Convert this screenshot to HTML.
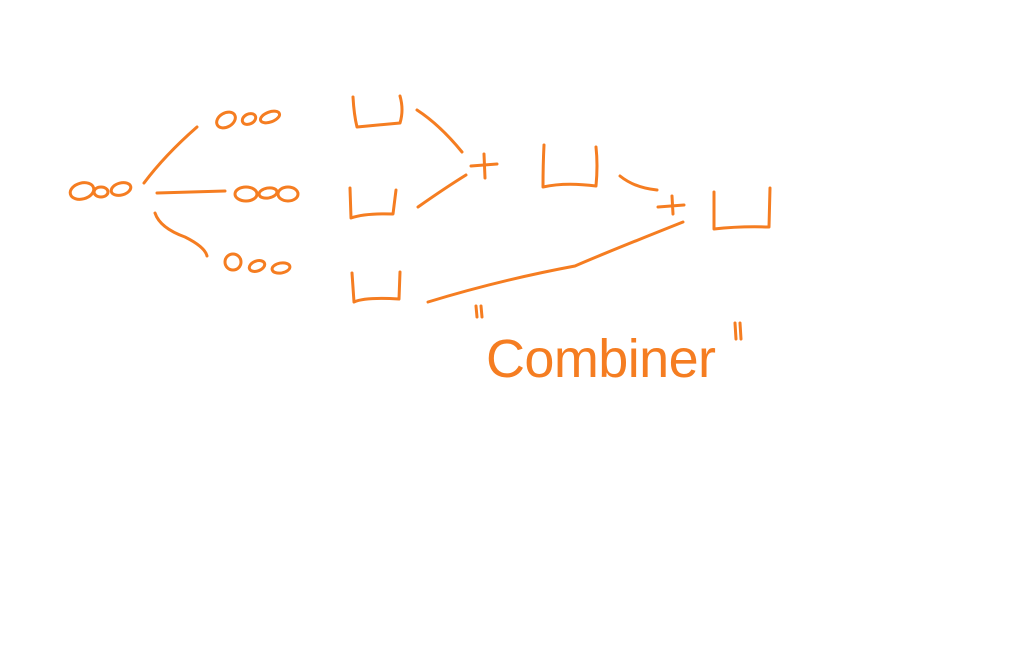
<!DOCTYPE html>
<html><head><meta charset="utf-8"><style>
html,body{margin:0;padding:0;background:#fff;width:1013px;height:672px;overflow:hidden}
svg{display:block}
</style></head><body>
<svg width="1013" height="672" viewBox="0 0 1013 672">
<g fill="none" stroke="#f57d21" stroke-width="3" stroke-linecap="round" stroke-linejoin="round">
<g>
<ellipse cx="82" cy="191" rx="12" ry="8" transform="rotate(-15 82 191)"/>
<ellipse cx="101" cy="192" rx="7" ry="5"/>
<ellipse cx="121" cy="189" rx="10" ry="6" transform="rotate(-15 121 189)"/>
</g>
<path d="M144 183 Q165 155 197 127"/>
<path d="M157 193 L225 191"/>
<path d="M155 213 Q160 228 185 237 Q205 247 207 256"/>
<g>
<ellipse cx="226" cy="120" rx="10" ry="7" transform="rotate(-30 226 120)"/>
<ellipse cx="249" cy="119" rx="7" ry="5" transform="rotate(-25 249 119)"/>
<ellipse cx="270" cy="117" rx="10" ry="5" transform="rotate(-20 270 117)"/>
</g>
<g>
<ellipse cx="246" cy="194" rx="11" ry="7"/>
<ellipse cx="268" cy="193" rx="9" ry="5" transform="rotate(-10 268 193)"/>
<ellipse cx="288" cy="194" rx="10" ry="7"/>
</g>
<g>
<ellipse cx="233" cy="262" rx="8" ry="8"/>
<ellipse cx="257" cy="266" rx="8" ry="5" transform="rotate(-20 257 266)"/>
<ellipse cx="281" cy="268" rx="9" ry="5" transform="rotate(-10 281 268)"/>
</g>
<path d="M353 97 Q354 115 357 127 L400 123 Q404 110 400 96"/>
<path d="M350 188 L351 218 Q365 213 393 214 L396 190"/>
<path d="M352 273 L354 302 Q365 297 399 299 L400 272"/>
<path d="M417 110 Q440 125 462 152"/>
<path d="M418 207 Q445 188 466 175"/>
<path d="M471 166 L497 164 M484 154 L485 178"/>
<path d="M544 145 Q543 165 543 187 Q565 182 596 186 Q598 165 596 147"/>
<path d="M620 176 Q635 188 657 190"/>
<path d="M658 207 L684 205 M672 196 L673 214"/>
<path d="M714 192 L714 229 Q740 226 769 227 L770 188"/>
<path d="M428 302 Q500 280 575 266 Q600 255 683 222"/>
<path d="M476 306 L477 317 M481 306 L482 317"/>
<path d="M735 323 L736 339 M740 323 L741 339"/>
</g>
<text x="486" y="377" font-family="Liberation Sans, sans-serif" font-size="54" fill="#f57d21" textLength="230" lengthAdjust="spacing">Combiner</text>
</svg>
</body></html>
